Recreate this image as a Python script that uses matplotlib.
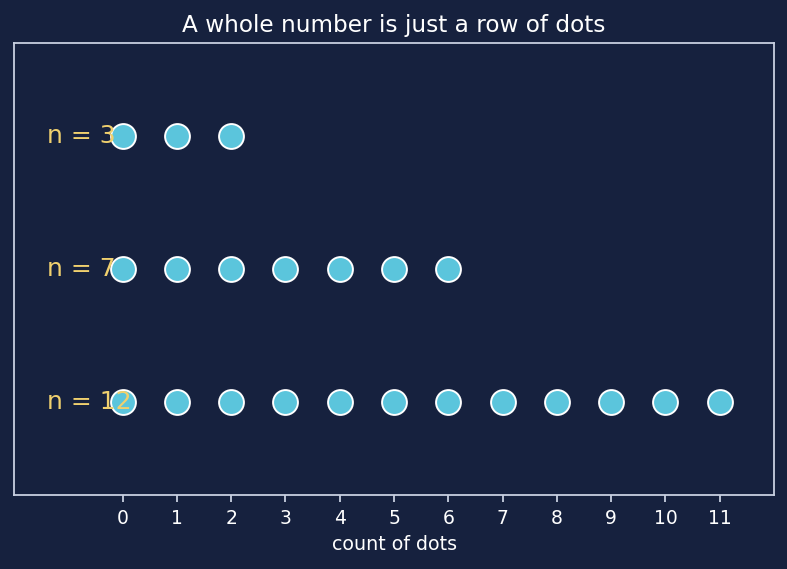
import matplotlib
matplotlib.use("Agg")
import matplotlib.pyplot as plt
import numpy as np

numbers = [3, 7, 12]
row_y = [2, 1, 0]
labels = ["n = 3", "n = 7", "n = 12"]
ticks = list(range(12))

bg = "#16213e"
dot_color = "#5bc5dc"
label_color = "#f0d06e"
fg = "#c8d0e0"

fig = plt.figure(figsize=(7.87, 5.69), dpi=100)
fig.patch.set_facecolor(bg)
ax = fig.add_axes([14 / 787, 1 - 495 / 569, (774 - 14) / 787, (495 - 43) / 569])
ax.set_facecolor(bg)

for n, y, lab in zip(numbers, row_y, labels):
    xs = np.arange(n)
    ax.scatter(xs, np.full(n, y), s=320, color=dot_color, edgecolor="white",
               linewidth=1.4, zorder=3)
    ax.text(-1.4, y, lab, color=label_color, fontsize=18, ha="left",
            va="center", zorder=4)

ax.set_xlim(-2, 12)
ax.set_ylim(-0.7, 2.7)
ax.set_xticks(ticks)
ax.set_xticklabels([str(t) for t in ticks], color="white", fontsize=13.5)
ax.set_yticks([])
ax.tick_params(axis="x", colors=fg, labelcolor="white", length=5, width=1.3, pad=5)
ax.set_xlabel("count of dots", color="white", fontsize=13.7, labelpad=5)
ax.set_title("A whole number is just a row of dots", color="white", fontsize=16.7, pad=8)
for spine in ax.spines.values():
    spine.set_color(fg)
    spine.set_linewidth(1.3)

fig.savefig("out.png", dpi=100, facecolor=bg)
